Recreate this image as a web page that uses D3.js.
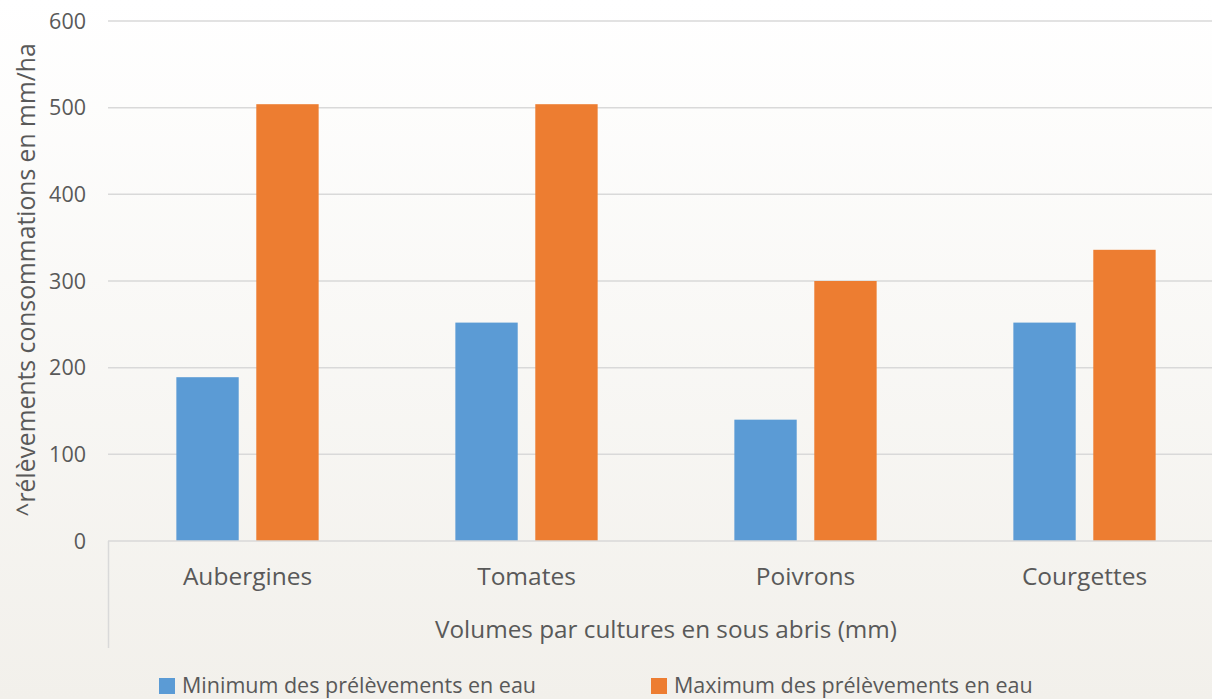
<!DOCTYPE html>
<html>
<head>
<meta charset="utf-8">
<script src="https://cdn.jsdelivr.net/npm/d3@7"></script>
<style>
  body { margin: 0; overflow: hidden; }
  text { font-family: "Open Sans", sans-serif; fill: #595959; }
</style>
</head>
<body>
<svg id="chart" width="1212" height="699"></svg>
<script>
// data
var categories = ["Aubergines", "Tomates", "Poivrons", "Courgettes"]
var seriesNames = ["Minimum des prélèvements en eau", "Maximum des prélèvements en eau"]
var minValues = [189, 252, 140, 252]
var maxValues = [504, 504, 300, 336]
var yTicks = [0, 100, 200, 300, 400, 500, 600]
var colors = ["#5b9bd5", "#ed7d31"]

var yTitle = "^rélèvements consommations en mm/ha"
var xTitle = "Volumes par cultures en sous abris (mm)"

var svg = d3.select("#chart")

// background gradient (white to warm grey)
var grad = svg.append("defs").append("linearGradient")
  .attr("id", "bg").attr("x1", 0).attr("y1", 0).attr("x2", 0).attr("y2", 1)
grad.append("stop").attr("offset", "0%").attr("stop-color", "#ffffff")
grad.append("stop").attr("offset", "100%").attr("stop-color", "#f2f0eb")
svg.append("rect").attr("width", 1212).attr("height", 699).attr("fill", "url(#bg)")

var x0 = d3.scaleBand()
  .domain(categories)
  .range([108, 1224])
  .paddingInner(0.49)
  .paddingOuter(0.245)

var x1 = d3.scaleBand()
  .domain(seriesNames)
  .range([0, x0.bandwidth()])
  .paddingInner(0.22)

var y = d3.scaleLinear().domain([0, 600]).range([541, 21])

// gridlines
svg.append("g").selectAll("line")
  .data(yTicks.filter(function(d){ return d > 0 }))
  .enter().append("line")
  .attr("x1", 108).attr("x2", 1212)
  .attr("y1", function(d){ return y(d) }).attr("y2", function(d){ return y(d) })
  .style("stroke", "#d9d9d9").style("stroke-width", 1.5)

// y tick labels
svg.append("g").selectAll("text")
  .data(yTicks)
  .enter().append("text")
  .attr("x", 86)
  .attr("y", function(d){ return y(d) })
  .attr("dy", "0.36em")
  .attr("text-anchor", "end")
  .style("font-size", "21.5px")
  .text(function(d){ return d })

// bars
var rows = categories.map(function(c, i){ return {cat: c, vals: [minValues[i], maxValues[i]]} })
var groups = svg.append("g").selectAll("g")
  .data(rows)
  .enter().append("g")
  .attr("transform", function(d){ return "translate(" + x0(d.cat) + ",0)" })

groups.selectAll("rect")
  .data(function(d){ return d.vals.map(function(v, j){ return {name: seriesNames[j], v: v, j: j} }) })
  .enter().append("rect")
  .attr("x", function(d){ return x1(d.name) })
  .attr("width", x1.bandwidth())
  .attr("y", function(d){ return y(d.v) })
  .attr("height", function(d){ return y(0) - y(d.v) })
  .attr("fill", function(d){ return colors[d.j] })

// category axis line and left divider
svg.append("line").attr("x1", 108).attr("x2", 1212).attr("y1", y(0)).attr("y2", y(0))
  .style("stroke", "#d9d9d9").style("stroke-width", 1.5)
svg.append("line").attr("x1", 108.5).attr("x2", 108.5).attr("y1", y(0)).attr("y2", 648)
  .style("stroke", "#d9d9d9").style("stroke-width", 1.5)

// category labels
svg.append("g").selectAll("text")
  .data(categories)
  .enter().append("text")
  .attr("x", function(d){ return x0(d) + x0.bandwidth() / 2 })
  .attr("y", 585)
  .attr("text-anchor", "middle")
  .style("font-size", "24.5px")
  .text(function(d){ return d })

// axis titles
svg.append("text")
  .attr("x", 666).attr("y", 638)
  .attr("text-anchor", "middle")
  .style("font-size", "24.3px")
  .text(xTitle)

svg.append("text")
  .attr("transform", "translate(35,280) rotate(-90)")
  .attr("text-anchor", "middle")
  .style("font-size", "24.7px")
  .text(yTitle)

// legend
var legendX = [159, 651]
var legend = svg.append("g").selectAll("g")
  .data(seriesNames)
  .enter().append("g")
  .attr("transform", function(d, i){ return "translate(" + legendX[i] + ",678)" })

legend.append("rect")
  .attr("width", 16).attr("height", 16)
  .attr("fill", function(d, i){ return colors[i] })

legend.append("text")
  .attr("x", 23).attr("y", 15)
  .style("font-size", "21.5px")
  .text(function(d){ return d })
</script>
</body>
</html>
